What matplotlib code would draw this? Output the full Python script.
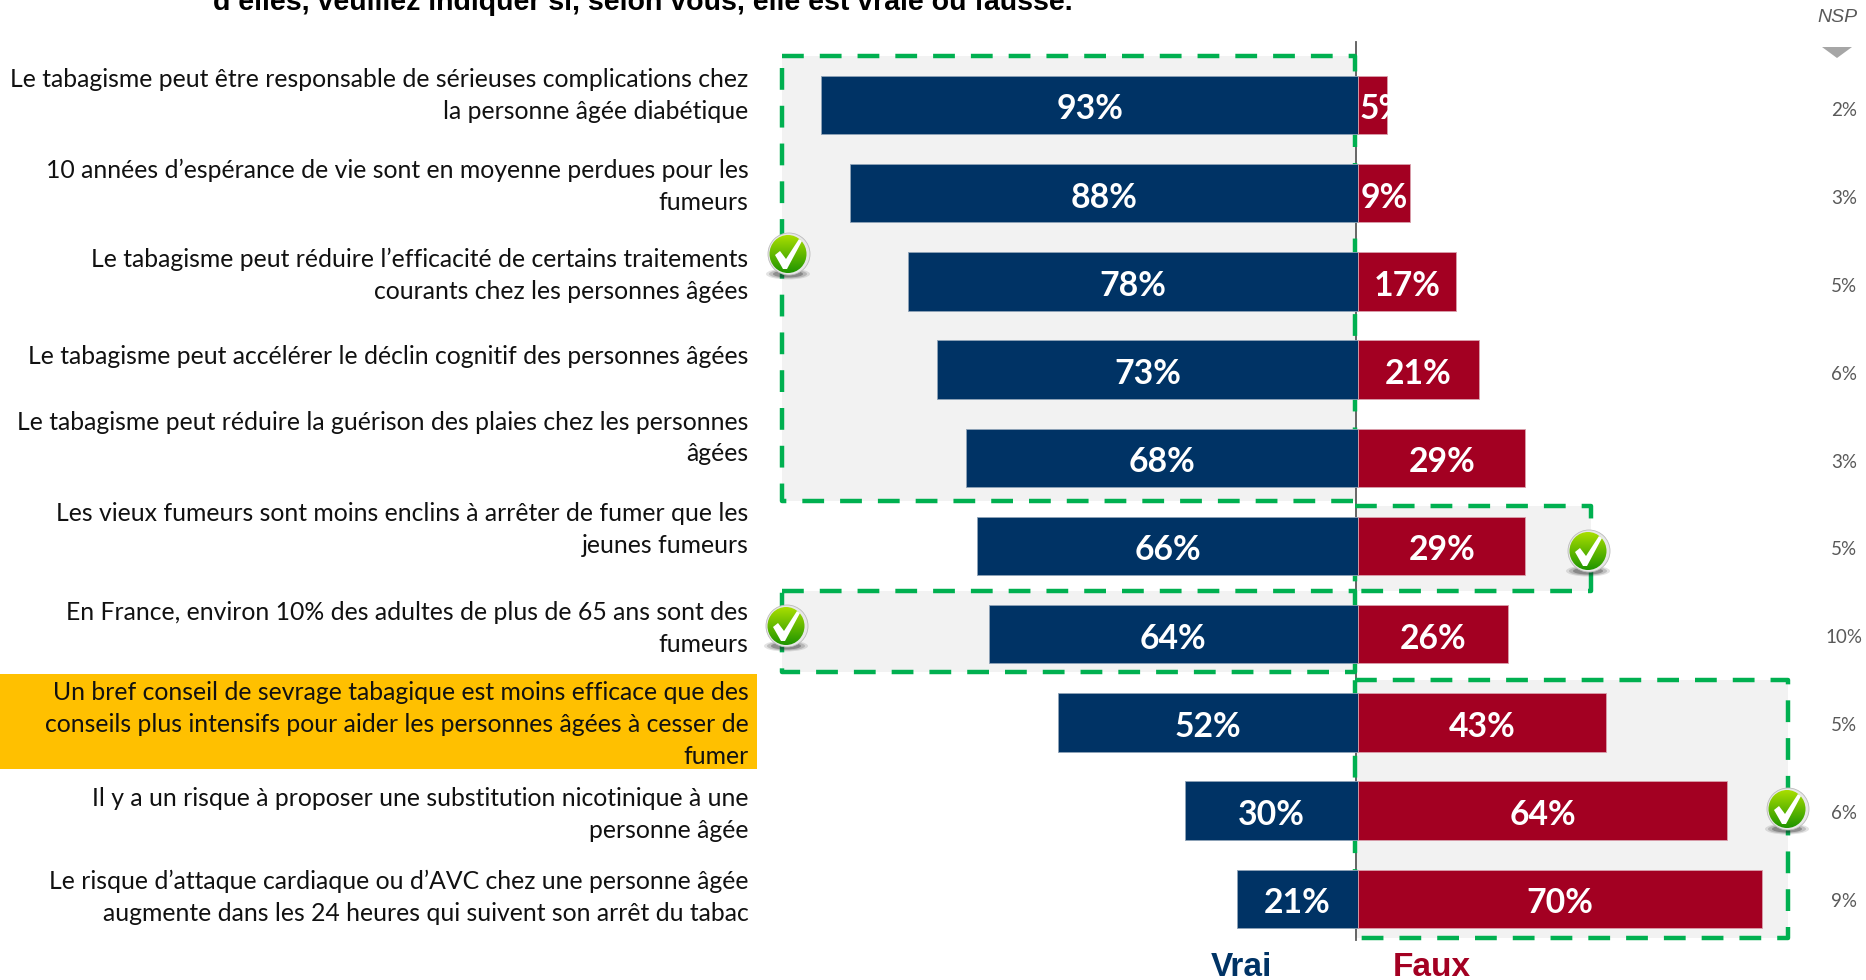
import numpy as np
import matplotlib
matplotlib.use("Agg")
import matplotlib.pyplot as plt
from matplotlib.patches import Rectangle, Ellipse, Polygon

labels = [
    "Le tabagisme peut être responsable de sérieuses complications chez\nla personne âgée diabétique",
    "10 années d’espérance de vie sont en moyenne perdues pour les\nfumeurs",
    "Le tabagisme peut réduire l’efficacité de certains traitements\ncourants chez les personnes âgées",
    "Le tabagisme peut accélérer le déclin cognitif des personnes âgées",
    "Le tabagisme peut réduire la guérison des plaies chez les personnes\nâgées",
    "Les vieux fumeurs sont moins enclins à arrêter de fumer que les\njeunes fumeurs",
    "En France, environ 10% des adultes de plus de 65 ans sont des\nfumeurs",
    "Un bref conseil de sevrage tabagique est moins efficace que des\nconseils plus intensifs pour aider les personnes âgées à cesser de\nfumer",
    "Il y a un risque à proposer une substitution nicotinique à une\npersonne âgée",
    "Le risque d’attaque cardiaque ou d’AVC chez une personne âgée\naugmente dans les 24 heures qui suivent son arrêt du tabac",
]
vrai = [93, 88, 78, 73, 68, 66, 64, 52, 30, 21]
faux = [5, 9, 17, 21, 29, 29, 26, 43, 64, 70]
nsp = [2, 3, 5, 6, 3, 5, 10, 5, 6, 9]
title = "d’elles, veuillez indiquer si, selon vous, elle est vraie ou fausse."

NAVY, RED, GREEN, GREY = "#003365", "#A30022", "#00B050", "#F2F2F2"
W, H = 1866, 980
X0, PX = 1358.0, 5.77      # pixel of 0 %, pixels per 1 %
Y0, PITCH = 105.0, 88.2    # pixel of first row, row pitch

fig = plt.figure(figsize=(W / 100, H / 100), dpi=100, facecolor="white")


def overlay(z):
    a = fig.add_axes([0, 0, 1, 1], zorder=z)
    a.set_xlim(0, W)
    a.set_ylim(H, 0)
    a.axis("off")
    a.patch.set_alpha(0)
    return a


under = overlay(0)
ax = fig.add_axes([0, 0, 1, 1], zorder=1)
ax.set_xlim(-X0 / PX, (W - X0) / PX)
ax.set_ylim((H - Y0) / PITCH, -Y0 / PITCH)
ax.axis("off")
ax.patch.set_alpha(0)
top = overlay(2)

# highlighted statement
under.add_patch(Rectangle((0, 674), 757, 95, fc="#FFC000", ec="none"))

# shaded "correct answer" boxes
boxes = [(782, 56, 1355, 501), (1355, 506, 1591, 591), (782, 591, 1355, 672), (1355, 680, 1788, 938)]
for x1, y1, x2, y2 in boxes:
    under.add_patch(Rectangle((x1, y1), x2 - x1, y2 - y1, fc=GREY, ec="none", zorder=1))
under.plot([1356, 1356], [42, 940], color="#595959", lw=1.3, zorder=2)
for x1, y1, x2, y2 in boxes:
    under.add_patch(Rectangle((x1, y1), x2 - x1, y2 - y1, fc="none", ec=GREEN, lw=3.2,
                              ls=(0, (4.9, 3.6)), joinstyle="round", zorder=3))

# bars
rows = np.arange(len(labels))
bars_v = ax.barh(rows, [-v for v in vrai], height=0.66, color=NAVY, edgecolor="#8FA3B8", linewidth=0.6)
bars_f = ax.barh(rows, faux, height=0.66, color=RED, edgecolor="#D9A0AC", linewidth=0.6)
VAL = dict(va="center", color="white", family="Lato", weight="bold", fontsize=24.3)
DY = 0.05
for r, v in zip(rows, vrai):
    ax.text(-v / 2, r + DY, f"{v}%", ha="center", **VAL)
for r, v, b in zip(rows, faux, bars_f):
    if v < 6:
        t = ax.text(0.3, r + DY, f"{v}%", ha="left", **VAL)
        t.set_clip_path(b)
    else:
        ax.text(v / 2, r + DY, f"{v}%", ha="center", **VAL)

# statements
label_y = [95.5, 186, 275, 356, 438, 529.5, 628.5, 724.5, 814.5, 897.5]
for s, y in zip(labels, label_y):
    top.text(748.5, y, s, ha="right", va="center", family="Lato", fontsize=17.8,
             color="#111111", linespacing=1.47, multialignment="right")

# NSP column
for i, n in enumerate(nsp):
    top.text(1844, 110.8 + 87.8 * i, f"{n}%", ha="center", va="center", family="Lato",
             fontsize=13.5, color="#595959")
top.text(1858, 17, "NSP", ha="right", va="center", family="Liberation Sans", style="italic",
         fontsize=14, color="#595959")
top.add_patch(Polygon([(1822, 47), (1852, 47), (1837, 58)], fc="#A6A6A6", ec="none"))

# title and column headers
top.text(642.5, 10, title, ha="center", va="baseline", family="Liberation Sans", weight="bold",
         fontsize=20.5, color="black")
top.text(1241, 976, "Vrai", ha="center", va="baseline", family="Liberation Sans", weight="bold",
         fontsize=24, color="#003365")
top.text(1432, 976, "Faux", ha="center", va="baseline", family="Liberation Sans", weight="bold",
         fontsize=24, color="#A30022")

# check-mark badges
grad = np.linspace(0, 1, 64)[:, None]
c1, c2 = np.array([0.66, 0.87, 0.0]), np.array([0.12, 0.58, 0.0])
grad_img = (c1[None, None, :] * (1 - grad[..., None]) + c2[None, None, :] * grad[..., None])
for cx, cy in [(788, 254), (1588, 551), (786, 626), (1787, 809)]:
    for w_s, h_s, a_s in [(44, 11, 0.12), (38, 9, 0.18), (30, 7, 0.3)]:
        top.add_patch(Ellipse((cx, cy + 20), w_s, h_s, fc="#202020", ec="none", alpha=a_s))
    top.add_patch(Ellipse((cx + 1, cy), 42, 42, fc="#E8E8E8", ec="#BBBBBB", lw=0.6))
    disc = Ellipse((cx, cy), 37, 38, fc="none", ec="none")
    top.add_patch(disc)
    im = top.imshow(grad_img, extent=(cx - 19, cx + 19, cy + 19, cy - 19), aspect="auto", zorder=3)
    im.set_clip_path(disc)
    top.add_patch(Polygon([(cx - 13, cy + 1), (cx - 8, cy - 3), (cx - 2, cy + 5), (cx + 11, cy - 15),
                           (cx + 14, cy - 13), (cx - 1, cy + 15), (cx - 5, cy + 15)],
                          fc="white", ec="none", zorder=4))
top.set_xlim(0, W)
top.set_ylim(H, 0)

fig.savefig("out.png", dpi=100, facecolor="white")
